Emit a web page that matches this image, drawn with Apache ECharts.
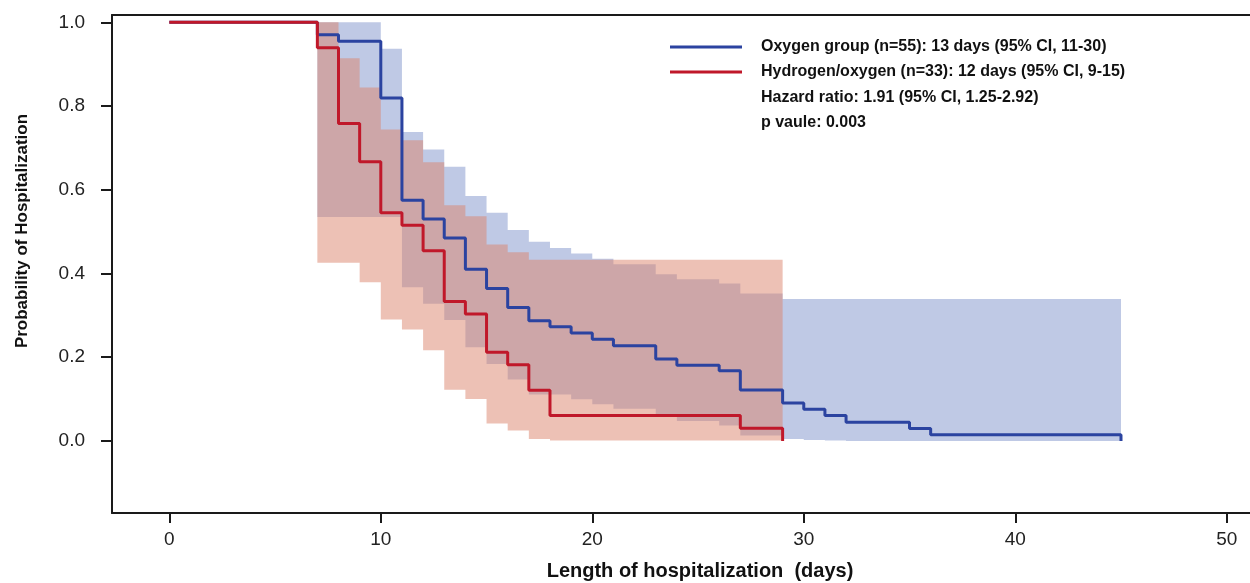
<!DOCTYPE html>
<html>
<head>
<meta charset="utf-8">
<script src="https://cdn.jsdelivr.net/npm/echarts@6/dist/echarts.min.js"></script>
<style>
html,body{margin:0;padding:0;background:#fff;}
#chart{width:1250px;height:583px;}
</style>
</head>
<body>
<div id="chart"></div>
<script>
// ---- Data ----
const xTicks = [0, 10, 20, 30, 40, 50];
const yTicks = [0.0, 0.2, 0.4, 0.6, 0.8, 1.0];

// Oxygen group Kaplan-Meier curve (step changes)
const oxyTimes = [0, 7, 8, 10, 11, 12, 13, 14, 15, 16, 17, 18, 19, 20, 21, 23, 24, 26, 27, 29, 30, 31, 32, 35, 36, 45];
const oxySurv  = [1.0, 0.970, 0.955, 0.819, 0.575, 0.530, 0.485, 0.410, 0.364, 0.319, 0.287, 0.273, 0.258, 0.243, 0.2275, 0.196, 0.181, 0.168, 0.122, 0.091, 0.076, 0.061, 0.045, 0.030, 0.015, 0.0];

// Oxygen group 95% CI band (value i holds from time i to time i+1)
const oxyBandTimes = [7, 8, 10, 11, 12, 13, 14, 15, 16, 17, 18, 19, 20, 21, 23, 24, 26, 27, 29, 30, 31, 32, 45];
const oxyUpper = [1.0, 1.0, 0.937, 0.738, 0.696, 0.655, 0.585, 0.545, 0.504, 0.476, 0.461, 0.448, 0.435, 0.422, 0.398, 0.386, 0.376, 0.352, 0.339, 0.339, 0.339, 0.339, 0.339];
const oxyLower = [0.535, 0.535, 0.535, 0.367, 0.328, 0.289, 0.224, 0.184, 0.147, 0.111, 0.111, 0.0995, 0.088, 0.077, 0.060, 0.048, 0.037, 0.013, 0.005, 0.0025, 0.001, 0.0, 0.0];

// Hydrogen/oxygen group Kaplan-Meier curve
const h2Times = [0, 7, 8, 9, 10, 11, 12, 13, 14, 15, 16, 17, 18, 27, 29];
const h2Surv  = [1.0, 0.939, 0.758, 0.667, 0.545, 0.515, 0.4545, 0.333, 0.303, 0.212, 0.182, 0.121, 0.0606, 0.0303, 0.0];

// Hydrogen/oxygen group 95% CI band
const h2BandTimes = [7, 8, 9, 10, 11, 12, 13, 14, 15, 16, 17, 18, 27, 29];
const h2Upper = [1.0, 0.914, 0.844, 0.744, 0.718, 0.666, 0.563, 0.537, 0.4695, 0.451, 0.433, 0.433, 0.433, 0.433];
const h2Lower = [0.4256, 0.4256, 0.379, 0.290, 0.2665, 0.217, 0.1225, 0.100, 0.042, 0.025, 0.005, 0.001, 0.001, 0.001];

const legendNames = [
  'Oxygen group (n=55): 13 days (95% CI, 11-30)',
  'Hydrogen/oxygen (n=33): 12 days (95% CI, 9-15)'
];
const extraTexts = ['Hazard ratio: 1.91 (95% CI, 1.25-2.92)', 'p vaule: 0.003'];
const xTitle = 'Length of hospitalization  (days)';
const yTitle = 'Probability of Hospitalization';

// ---- Chart ----
const FONT = "'Liberation Sans', Arial, Helvetica, sans-serif";
const pairs = (xs, ys) => xs.map((x, i) => [x, ys[i]]);

// A step-shaped band: one data item per band time; the whole band is drawn
// as a single polygon (on the first item) using the axis scales via api.coord.
function bandSeries(name, times, lower, upper, color) {
  const items = times.map((t, i) => [t, lower[i], upper[i]]);
  return {
    type: 'custom', name: name, silent: true,
    encode: { x: 0, y: [1, 2] },
    data: items,
    renderItem: function (params, api) {
      if (params.dataIndex !== 0) return null;
      const n = items.length;
      const pts = [];
      for (let i = 0; i < n - 1; i++) {
        pts.push(api.coord([items[i][0], items[i][2]]));
        pts.push(api.coord([items[i + 1][0], items[i][2]]));
      }
      for (let i = n - 2; i >= 0; i--) {
        pts.push(api.coord([items[i + 1][0], items[i][1]]));
        pts.push(api.coord([items[i][0], items[i][1]]));
      }
      return {
        type: 'polygon',
        shape: { points: pts },
        style: { fill: color }
      };
    }
  };
}

const chart = echarts.init(document.getElementById('chart'), null, { renderer: 'canvas' });
const axisColor = '#1a1a1a';

chart.setOption({
  animation: false,
  backgroundColor: '#ffffff',
  grid: { left: 112, right: 0, top: 15, bottom: 70, containLabel: false },
  xAxis: [
    {
      type: 'value', min: -2.71, max: 51.1, position: 'bottom',
      splitLine: { show: false },
      axisLine: { show: true, onZero: false, lineStyle: { color: axisColor, width: 2 } },
      axisTick: { show: true, customValues: xTicks, length: 10, inside: false, lineStyle: { color: axisColor, width: 2 } },
      axisLabel: { customValues: xTicks, margin: 17, fontSize: 19, color: '#222', fontFamily: FONT }
    },
    {
      type: 'value', min: -2.71, max: 51.1, position: 'top',
      splitLine: { show: false },
      axisLine: { show: true, onZero: false, lineStyle: { color: axisColor, width: 2 } },
      axisTick: { show: false }, axisLabel: { show: false }
    }
  ],
  yAxis: {
    type: 'value', min: -0.172, max: 1.0174,
    splitLine: { show: false },
    axisLine: { show: true, onZero: false, lineStyle: { color: axisColor, width: 2 } },
    axisTick: { show: true, customValues: yTicks, length: 11, lineStyle: { color: axisColor, width: 2 } },
    axisLabel: { customValues: yTicks, margin: 27, fontSize: 19, color: '#222', fontFamily: FONT,
      formatter: v => v.toFixed(1) }
  },
  legend: {
    data: legendNames, orient: 'vertical', left: 665, top: 34,
    icon: 'rect', itemWidth: 72, itemHeight: 3, itemGap: 9,
    selectedMode: false,
    textStyle: { fontSize: 16, fontWeight: 'bold', color: '#111', fontFamily: FONT,
      lineHeight: 16, padding: [0, 0, 0, 14] }
  },
  graphic: [
    { type: 'text', left: 761, top: 90, style: { text: extraTexts[0], fontSize: 16, fontWeight: 'bold', fill: '#111', fontFamily: FONT } },
    { type: 'text', left: 761, top: 115, style: { text: extraTexts[1], fontSize: 16, fontWeight: 'bold', fill: '#111', fontFamily: FONT } },
    { type: 'text', x: 700, y: 571, style: { text: xTitle, fontSize: 20, fontWeight: 'bold', fill: '#111', fontFamily: FONT, align: 'center', verticalAlign: 'middle' } },
    { type: 'text', x: 22, y: 231, rotation: Math.PI / 2, style: { text: yTitle, fontSize: 17, fontWeight: 'bold', fill: '#111', fontFamily: FONT, align: 'center', verticalAlign: 'middle' } }
  ],
  series: [
    bandSeries('oxyBand', oxyBandTimes, oxyLower, oxyUpper, 'rgba(127,147,203,0.5)'),
    bandSeries('h2Band', h2BandTimes, h2Lower, h2Upper, 'rgba(219,131,107,0.5)'),
    {
      name: legendNames[0], type: 'line', step: 'end', data: pairs(oxyTimes, oxySurv),
      showSymbol: false, symbol: 'none', color: '#2B43A0',
      lineStyle: { color: '#2B43A0', width: 3 }
    },
    {
      name: legendNames[1], type: 'line', step: 'end', data: pairs(h2Times, h2Surv),
      showSymbol: false, symbol: 'none', color: '#C0182A',
      lineStyle: { color: '#C0182A', width: 3 }
    }
  ]
});
</script>
</body>
</html>
